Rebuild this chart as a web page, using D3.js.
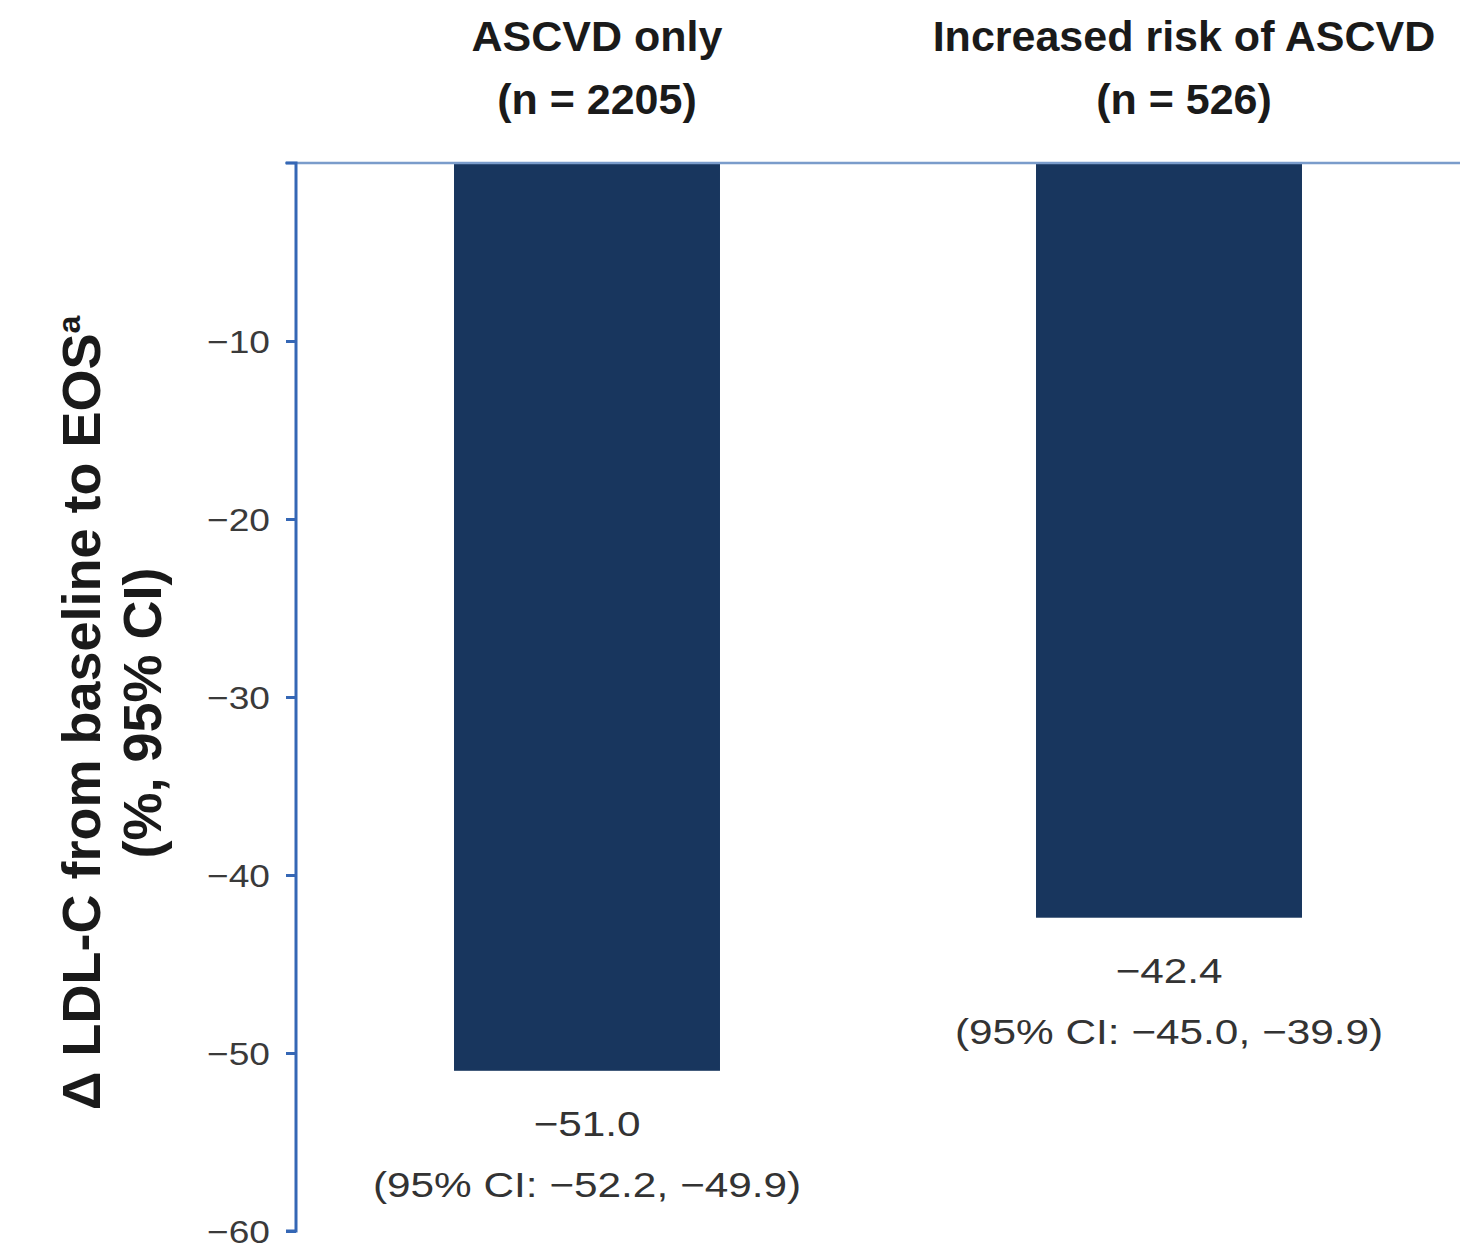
<!DOCTYPE html>
<html><head><meta charset="utf-8">
<script src="https://cdn.jsdelivr.net/npm/d3@7"></script>
<style>body{margin:0;background:#fff}svg{display:block}</style>
</head><body>
<script>
const categories = ["ASCVD only", "Increased risk of ASCVD"];
const nLabels = ["(n = 2205)", "(n = 526)"];
const values = [-51.0, -42.4];
const ciLow = [-52.2, -45.0];
const ciHigh = [-49.9, -39.9];
const yTicks = [-10, -20, -30, -40, -50, -60];

const W = 1460, H = 1253;
const svg = d3.select("body").append("svg").attr("width", W).attr("height", H);
const font = "'Liberation Sans', Arial, sans-serif";
const fmt = v => (v < 0 ? "\u2212" : "") + Math.abs(v).toFixed(1);

const x = d3.scaleBand().domain(categories).range([296, 1460]).paddingInner(0.543).paddingOuter(0.2715);
const y = d3.scaleLinear().domain([-60, 0]).range([1231, 163]);

// bars
svg.selectAll("rect.bar").data(categories).join("rect")
  .attr("class", "bar")
  .attr("x", d => x(d)).attr("width", x.bandwidth())
  .attr("y", y(0)).attr("height", (d, i) => y(values[i]) - y(0))
  .attr("fill", "#18365e");

// top zero line
svg.append("line").attr("x1", 285).attr("x2", W).attr("y1", y(0)).attr("y2", y(0))
  .attr("stroke", "#7a9ccb").attr("stroke-width", 2.5);

// y axis
const axis = svg.append("g").attr("transform", "translate(296,0)")
  .call(d3.axisLeft(y).tickValues(yTicks).tickSize(10).tickPadding(14)
        .tickFormat(d => "\u2212" + Math.abs(d)));
axis.select(".domain").attr("d", `M-10,${y(0)}H0V${y(-60)}H-10`).attr("stroke", "#3567b5").attr("stroke-width", 3).attr("fill", "none");
axis.selectAll(".tick line").attr("stroke", "#3567b5").attr("stroke-width", 3);
axis.selectAll(".tick text").attr("font-family", font).attr("font-size", 32).attr("fill", "#3a3a3a")
  .attr("x", 0).attr("dy", "0.36em").attr("transform", "translate(-26,0) scale(1.16,1)");

// column titles
categories.forEach((c, i) => {
  const cx = x(c) + x.bandwidth() / 2 + (i === 0 ? 10 : 15);
  svg.append("text").attr("x", cx).attr("y", 51).attr("text-anchor", "middle")
    .attr("font-family", font).attr("font-weight", "bold").attr("font-size", 43).attr("fill", "#1a1a1a").text(c);
  svg.append("text").attr("x", cx).attr("y", 114).attr("text-anchor", "middle")
    .attr("font-family", font).attr("font-weight", "bold").attr("font-size", 43).attr("fill", "#1a1a1a").text(nLabels[i]);
});

// value labels
categories.forEach((c, i) => {
  const cx = x(c) + x.bandwidth() / 2;
  const by = y(values[i]);
  const g = svg.append("g").attr("transform", `translate(${cx},0) scale(1.21,1)`);
  g.append("text").attr("x", 0).attr("y", by + 65).attr("text-anchor", "middle")
    .attr("font-family", font).attr("font-size", 35).attr("fill", "#333").text(fmt(values[i]));
  g.append("text").attr("x", 0).attr("y", by + 126).attr("text-anchor", "middle")
    .attr("font-family", font).attr("font-size", 35).attr("fill", "#333")
    .text(`(95% CI: ${fmt(ciLow[i])}, ${fmt(ciHigh[i])})`);
});

// y label
const yl = svg.append("text").attr("transform", "translate(0,713) rotate(-90)")
  .attr("text-anchor", "middle").attr("font-family", font).attr("font-weight", "bold")
  .attr("font-size", 54).attr("fill", "#1a1a1a");
const l1 = yl.append("tspan").attr("x", 0).attr("y", 100);
l1.append("tspan").text("\u0394 LDL-C from baseline to EOS");
l1.append("tspan").attr("font-size", 32).attr("dy", -20).text("a");
yl.append("tspan").attr("x", 0).attr("y", 161).text("(%, 95% CI)");
</script>
</body></html>
